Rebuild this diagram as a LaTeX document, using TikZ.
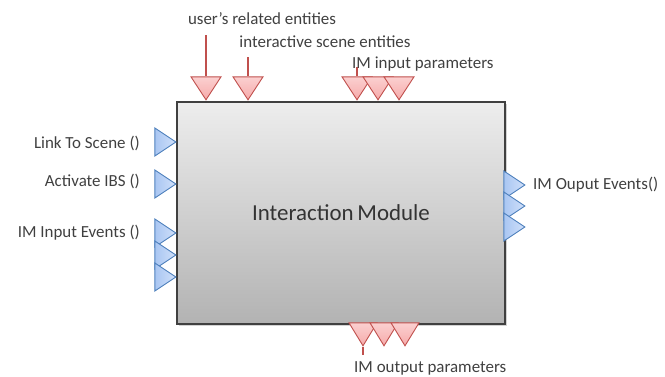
\documentclass[tikz,border=0pt]{standalone}
\usepackage{fontspec}
\setmainfont{Carlito}
\usetikzlibrary{shapes.geometric,shadows}
\definecolor{redline}{HTML}{C0504D}
\definecolor{redfill}{HTML}{F6AAAA}
\definecolor{redfilltop}{HTML}{FBD0D0}
\definecolor{blueline}{HTML}{4F81BD}
\definecolor{bluefill}{HTML}{A9C6F2}
\definecolor{bluefilltop}{HTML}{D0E0FA}
\definecolor{txt}{HTML}{404040}
\begin{document}
\begin{tikzpicture}[x=1bp,y=-1bp,
  lbl/.style={font=\fontsize{17}{20}\selectfont, text=txt, inner sep=0pt},
  tridown/.style={isosceles triangle, isosceles triangle stretches, shape border rotate=270,
     minimum width=30bp, minimum height=23bp, inner sep=0pt, draw=redline, line width=0.9bp,
     top color=redfilltop, bottom color=redfill, anchor=apex},
  triright/.style={isosceles triangle, isosceles triangle stretches, shape border rotate=0,
     minimum width=28bp, minimum height=21bp, inner sep=0pt, draw=blueline, line width=0.9bp,
     left color=bluefill, right color=bluefilltop, anchor=apex},
  stem/.style={draw=redline, line width=2.8bp}]
\useasboundingbox (0,0) rectangle (665,376);
% module box
\node (box) [draw=black!75, line width=1.5bp, top color=black!7, bottom color=black!30,
  minimum width=328bp, minimum height=222bp, inner sep=0pt,
  drop shadow={shadow xshift=1.5bp, shadow yshift=-1.5bp, opacity=0.35},
  font=\fontsize{23}{27}\selectfont, text=black!80] at (341,213) {Interaction\,Module};
% top inputs
\node (t1) [tridown] at (206,101) {};
\node (t2) [tridown] at (248,101) {};
\node (p1) [tridown] at (357,101) {};
\node (p2) [tridown] at (378,101) {};
\node (p3) [tridown] at (399,101) {};
\coordinate (s1) at (206,35);
\coordinate (s2) at (248,57);
\coordinate (s3) at (357,67);
\draw[stem] (s1) -- (t1.lower side);
\draw[stem] (s2) -- (t2.lower side);
\draw[stem] (s3) -- (p1.lower side);
% bottom outputs
\node (o1) [tridown, minimum width=28bp] at (363,347) {};
\node (o2) [tridown, minimum width=28bp] at (384,347) {};
\node (o3) [tridown, minimum width=28bp] at (405,347) {};
\coordinate (s4) at (363,355);
\draw[stem] (o1.apex) -- (s4);
% left inputs
\node (l1) [triright] at (177,142) {};
\node (l2) [triright] at (177,184) {};
\node (e1) [triright] at (177,233) {};
\node (e2) [triright] at (177,255) {};
\node (e3) [triright] at (177,277) {};
% right outputs
\node (r1) [triright] at (526,185) {};
\node (r2) [triright] at (526,206) {};
\node (r3) [triright] at (526,227) {};
% labels
\node (lt1) [lbl] at (262,19) {user’s related entities};
\node (lt2) [lbl] at (325,42) {interactive scene entities};
\node (lt3) [lbl, anchor=west] at (352,64) {IM input parameters};
\node (ll1) [lbl, anchor=east] at (140,143) {Link To Scene ()};
\node (ll2) [lbl, anchor=east] at (140,181) {Activate IBS ()};
\node (ll3) [lbl, anchor=east] at (140,233) {IM Input Events ()};
\node (lr1) [lbl, anchor=west] at (533,185) {IM Ouput Events()};
\node (lb1) [lbl, anchor=west] at (354,368) {IM output parameters};
\end{tikzpicture}
\end{document}
